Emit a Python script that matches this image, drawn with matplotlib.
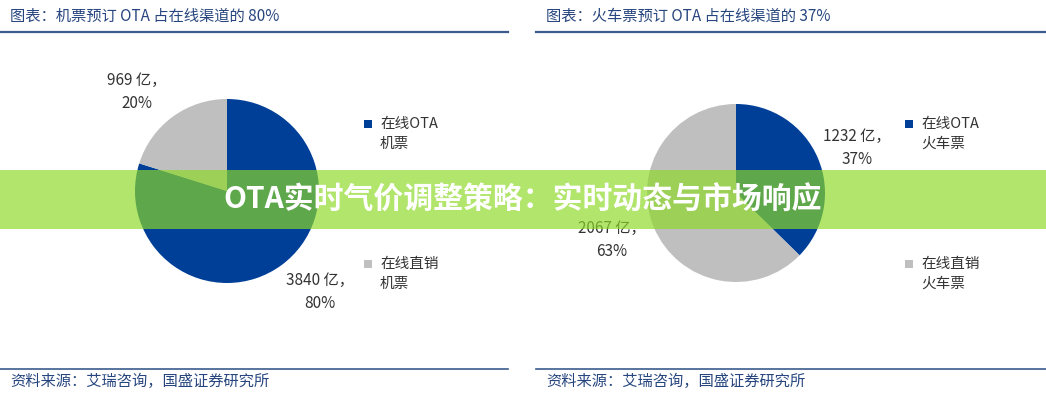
import matplotlib
matplotlib.use('Agg')
import matplotlib.pyplot as plt
from matplotlib.patches import Rectangle
from matplotlib.lines import Line2D

plt.rcParams['font.family'] = ['Noto Sans CJK SC', 'DejaVu Sans']

# data
titles = ['图表：机票预订 OTA 占在线渠道的 80%', '图表：火车票预订 OTA 占在线渠道的 37%']
source = '资料来源：艾瑞咨询，国盛证券研究所'
air_values = [3840, 969]
rail_values = [1232, 2067]
air_legend = ['在线OTA\n机票', '在线直销\n机票']
rail_legend = ['在线OTA\n火车票', '在线直销\n火车票']
banner_text = 'OTA实时气价调整策略：实时动态与市场响应'

blue = '#003f98'
gray = '#bfbfbf'
title_col = '#27467f'
line_col = '#3b5b8c'
txt_col = '#333333'

W, H = 1046, 400
fig = plt.figure(figsize=(W / 100, H / 100), dpi=100)
fig.patch.set_facecolor('white')


def fx(x):
    return x / W


def fy(y):
    return 1 - y / H


def pie_panel(cx, cy, r, values):
    ax = fig.add_axes([fx(cx - r), fy(cy + r), 2 * r / W, 2 * r / H])
    ax.pie(values, colors=[blue, gray], startangle=90, counterclock=False,
           radius=1, wedgeprops=dict(linewidth=0))
    ax.set_xlim(-1, 1)
    ax.set_ylim(-1, 1)
    ax.set_aspect('auto')
    ax.axis('off')
    return ax


pie_panel(227, 191, 92, air_values)
pie_panel(736, 193, 89, rail_values)

# titles, rules and sources
for x0, x1, t in [(0, 508, titles[0]), (536, 1046, titles[1])]:
    fig.text(fx(x0 + 10), fy(16), t, fontsize=11, color=title_col,
             ha='left', va='center', style='italic')
    fig.add_artist(Line2D([fx(x0), fx(x1)], [fy(32), fy(32)], color=line_col, lw=1.6))
    fig.add_artist(Line2D([fx(x0), fx(x1)], [fy(369), fy(369)], color=line_col, lw=1.2))
    fig.text(fx(x0 + 10), fy(381), source, fontsize=11, color=title_col,
             ha='left', va='center', style='italic')

# value labels
def pct(v, vals):
    return round(100 * v / sum(vals))

lab_kw = dict(fontsize=11, color=txt_col, ha='center', va='center', linespacing=1.4)
fig.text(fx(137), fy(92), f'{air_values[1]} 亿，\n{pct(air_values[1], air_values)}%', **lab_kw)
fig.text(fx(320), fy(292), f'{air_values[0]} 亿，\n{pct(air_values[0], air_values)}%', **lab_kw)
fig.text(fx(857), fy(148), f'{rail_values[0]} 亿，\n{pct(rail_values[0], rail_values)}%', **lab_kw)
fig.text(fx(612), fy(240), f'{rail_values[1]} 亿，\n{pct(rail_values[1], rail_values)}%', **lab_kw)

# legends
for lx, labels in [(368, air_legend), (909, rail_legend)]:
    for ly, lab, c in [(124, labels[0], blue), (264, labels[1], gray)]:
        fig.add_artist(Rectangle((fx(lx - 4), fy(ly + 4)), 8 / W, 8 / H, color=c, lw=0))
        fig.text(fx(lx + 12), fy(ly - 7), lab, fontsize=10.5, color=txt_col,
                 ha='left', va='top', linespacing=1.5)

# overlay banner
fig.add_artist(Rectangle((0, fy(229)), 1, 59 / H, facecolor='#8cd926', alpha=0.68,
                         lw=0, zorder=10))
fig.text(0.5, fy(200), banner_text, fontsize=21.5, fontweight='heavy', color='white',
         ha='center', va='center', zorder=11)

fig.savefig('out.png', dpi=100)
